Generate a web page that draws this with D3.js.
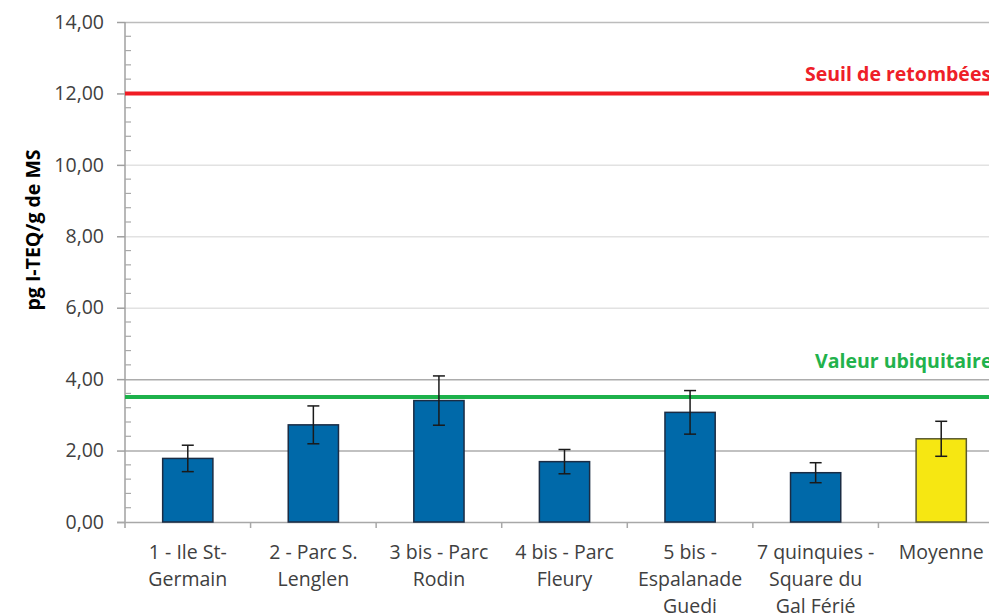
<!DOCTYPE html>
<html><head><meta charset="utf-8">
<script src="https://cdn.jsdelivr.net/npm/d3@7"></script>
<style>
body{margin:0;background:#fff;}
svg{display:block;font-family:"Open Sans","Liberation Sans",sans-serif;}
</style></head>
<body><svg id="c" width="989" height="614"></svg>
<script>
const categories = [
  ["1 - Ile St-", "Germain"],
  ["2 - Parc S.", "Lenglen"],
  ["3 bis - Parc", "Rodin"],
  ["4 bis - Parc", "Fleury"],
  ["5 bis -", "Espalanade", "Guedi"],
  ["7 quinquies -", "Square du", "Gal Férié"],
  ["Moyenne"]
];
const values = [1.78, 2.72, 3.40, 1.69, 3.07, 1.38, 2.33];
const errors = [0.37, 0.53, 0.69, 0.34, 0.61, 0.28, 0.49];
const yTicks = [0, 2, 4, 6, 8, 10, 12, 14];
const yTickLabels = ["0,00", "2,00", "4,00", "6,00", "8,00", "10,00", "12,00", "14,00"];
const seuil = 12;
const seuilLabel = "Seuil de retombées";
const ubiq = 3.5;
const ubiqLabel = "Valeur ubiquitaire";
const yTitle = "pg I-TEQ/g de MS";

(function () {
const svg = d3.select("#c");
const mLeft = 125, mTop = 22, mBottom = 522, mRight = 1004;
const fs = "19.5px";
const y = d3.scaleLinear().domain([0, 14]).range([mBottom, mTop]);
const x = d3.scaleBand().domain(d3.range(categories.length)).range([mLeft, mRight]).paddingInner(0.6).paddingOuter(0.3);
const xb = d3.scaleBand().domain(d3.range(categories.length)).range([mLeft, mRight]);

// gridlines
svg.append("g").selectAll("line").data(yTicks.filter(d => d > 0)).join("line")
  .attr("x1", mLeft).attr("x2", 989)
  .attr("y1", d => y(d) + 0.5).attr("y2", d => y(d) + 0.5)
  .attr("stroke", d => (d <= 4 ? "#acacac" : d === 14 ? "#bcbcbc" : "#e2e2e2"))
  .attr("stroke-width", 1.5);

// y axis
const yAxis = d3.axisLeft(y).tickValues(yTicks).tickFormat((d, i) => yTickLabels[i]).tickSize(8).tickPadding(13);
const ga = svg.append("g").attr("transform", `translate(${mLeft},0)`).call(yAxis);
ga.select(".domain").attr("stroke", "#a0a0a0").attr("stroke-width", 1.5).attr("d", `M0,${mTop}V${mBottom + 6}`);
ga.selectAll(".tick line").attr("stroke", "#a0a0a0").attr("stroke-width", 1.5);
ga.selectAll(".tick text").attr("fill", "#404040").style("font-size", fs).style("font-family", "'Open Sans','Liberation Sans',sans-serif");
// minor ticks
const minor = d3.range(0, 14.001, 0.4).filter(v => Math.abs(v / 2 - Math.round(v / 2)) > 0.01);
svg.append("g").selectAll("line").data(minor).join("line")
  .attr("x1", mLeft).attr("x2", mLeft + 6)
  .attr("y1", d => y(d)).attr("y2", d => y(d))
  .attr("stroke", "#a8a8a8").attr("stroke-width", 1.2);

// x axis line & ticks
svg.append("line").attr("x1", mLeft - 8).attr("x2", 989).attr("y1", mBottom + 0.5).attr("y2", mBottom + 0.5)
  .attr("stroke", "#a8a8a8").attr("stroke-width", 1.5);
svg.append("g").selectAll("line").data(d3.range(1, categories.length)).join("line")
  .attr("x1", d => xb(d)).attr("x2", d => xb(d))
  .attr("y1", mBottom).attr("y2", mBottom + 6)
  .attr("stroke", "#a8a8a8").attr("stroke-width", 1.5);

// bars
svg.append("g").selectAll("rect").data(values).join("rect")
  .attr("x", (d, i) => x(i)).attr("width", x.bandwidth())
  .attr("y", d => y(d)).attr("height", d => mBottom - y(d))
  .attr("fill", (d, i) => i === values.length - 1 ? "#f6e712" : "#0069a9")
  .attr("stroke", (d, i) => i === values.length - 1 ? "#5a5a30" : "#1b2c44")
  .attr("stroke-width", 1.5);

// reference lines
svg.append("line").attr("x1", mLeft).attr("x2", 989).attr("y1", y(seuil)).attr("y2", y(seuil))
  .attr("stroke", "#f01c24").attr("stroke-width", 4);
svg.append("line").attr("x1", mLeft).attr("x2", 989).attr("y1", y(ubiq)).attr("y2", y(ubiq))
  .attr("stroke", "#1db14b").attr("stroke-width", 4);

// error bars
const eg = svg.append("g").attr("stroke", "#1a1a1a").attr("stroke-width", 1.5);
values.forEach((v, i) => {
  const cx = x(i) + x.bandwidth() / 2;
  const e = errors[i];
  eg.append("line").attr("x1", cx).attr("x2", cx).attr("y1", y(v + e)).attr("y2", y(v - e));
  eg.append("line").attr("x1", cx - 6).attr("x2", cx + 6).attr("y1", y(v + e)).attr("y2", y(v + e));
  eg.append("line").attr("x1", cx - 6).attr("x2", cx + 6).attr("y1", y(v - e)).attr("y2", y(v - e));
});

// labels on lines
svg.append("text").attr("x", 805).attr("y", y(seuil) - 12).text(seuilLabel)
  .attr("fill", "#ee2028").style("font-size", fs).style("font-weight", "bold");
svg.append("text").attr("x", 815).attr("y", y(ubiq) - 29).text(ubiqLabel)
  .attr("fill", "#22b24c").style("font-size", fs).style("font-weight", "bold");

// category labels
const cl = svg.append("g");
categories.forEach((lines, i) => {
  const cx = xb(i) + xb.bandwidth() / 2;
  const t = cl.append("text").attr("text-anchor", "middle").attr("fill", "#404040").style("font-size", fs);
  lines.forEach((ln, j) => t.append("tspan").attr("x", cx).attr("y", 559 + j * 27).text(ln));
});

// y title
svg.append("text").attr("transform", `translate(40,230) rotate(-90)`).attr("text-anchor", "middle")
  .text(yTitle).attr("fill", "#000").style("font-size", fs).style("font-weight", "bold");
})();
</script></body></html>
